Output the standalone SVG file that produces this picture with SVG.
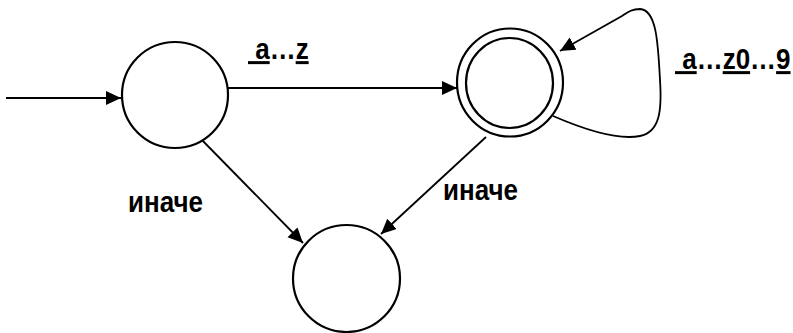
<svg xmlns="http://www.w3.org/2000/svg" width="793" height="333" viewBox="0 0 793 333">
  <defs>
    <marker id="arrow" markerUnits="userSpaceOnUse" markerWidth="16" markerHeight="15" refX="15" refY="7" orient="auto">
      <path d="M0,0 L15,7 L0,14 z" fill="#000"/>
    </marker>
    <style>
      .state { fill: #fff; stroke: #000; stroke-width: 2.2; }
      .edge { fill: none; stroke: #000; stroke-width: 1.8; marker-end: url(#arrow); }
      .lbl { font-family: "Liberation Sans", Arial, sans-serif; font-weight: bold; font-size: 26px; fill: #000; white-space: pre; }
      .u { text-decoration: underline; }
    </style>
  </defs>
  <rect width="793" height="333" fill="#fff"/>

  <g id="connectors">
    <line class="edge" x1="6" y1="98" x2="121" y2="98"/>
    <line class="edge" x1="228" y1="88" x2="457" y2="88"/>
    <path class="edge" d="M553,116 C590,132 620,140 640,136 C660,132 662,110 660,80 C658,40 656,10 640,9 C632,9 628,12 622,16 L560,51"/>
    <line class="edge" x1="199" y1="137" x2="303" y2="243"/>
    <line class="edge" x1="486" y1="137" x2="381" y2="234"/>
  </g>

  <g id="q0">
    <ellipse class="state" cx="175" cy="95" rx="53" ry="53"/>
  </g>
  <g id="q1">
    <ellipse class="state" cx="510" cy="82.5" rx="53" ry="54"/>
    <ellipse class="state" cx="509.5" cy="83" rx="43.5" ry="45"/>
  </g>
  <g id="q2">
    <circle class="state" cx="346.5" cy="278.5" r="53.5"/>
  </g>

  <!-- labels are set slightly tall: 26px type stretched vertically -->
  <g id="labels">
    <text class="lbl" transform="translate(248,59) scale(1,1.15)"><tspan class="u"> a</tspan>…<tspan class="u">z</tspan></text>
    <text class="lbl" transform="translate(675,69) scale(1,1.15)"><tspan class="u"> a</tspan>…<tspan class="u">z0</tspan>…<tspan class="u">9</tspan></text>
    <text class="lbl" transform="translate(128,212) scale(1,1.15)">иначе</text>
    <text class="lbl" transform="translate(443,200) scale(1,1.15)">иначе</text>
  </g>
</svg>
